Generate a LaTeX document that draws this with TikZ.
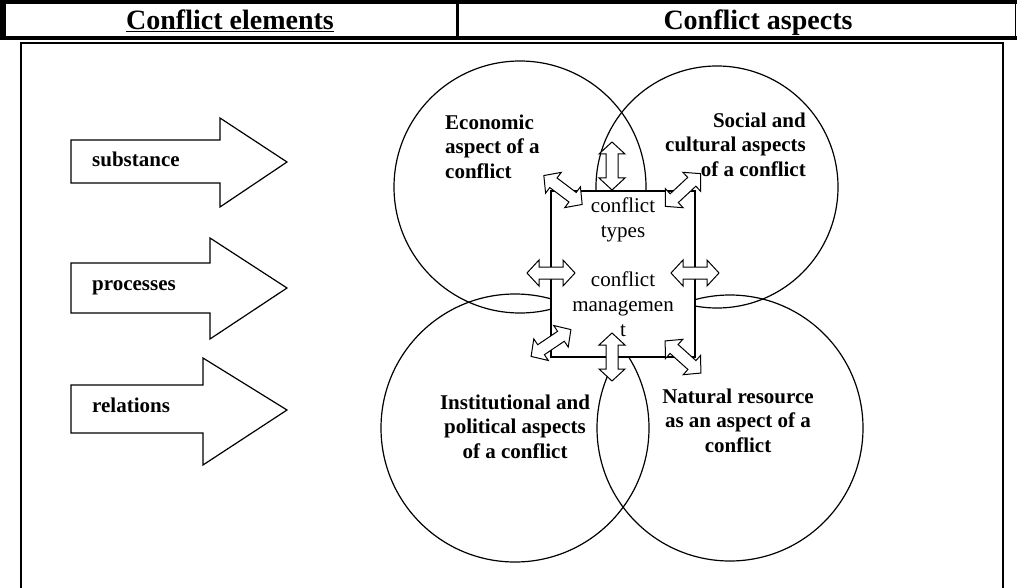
\documentclass[tikz,border=0pt]{standalone}
\usepackage{fontspec}
\setmainfont{Liberation Serif}
\usepackage{tikz}
\usetikzlibrary{positioning}

\tikzset{
	aspect/.style={circle, draw, line width=1.2pt},
	aspecttxt/.style={inner sep=0pt, font=\fontsize{21}{24.5}\selectfont\bfseries},
	elemtxt/.style={anchor=base west, inner sep=0pt, font=\fontsize{21}{24.5}\selectfont\bfseries},
	bigarrow/.style={draw, fill=white, line width=1.2pt, line join=miter},
	dblarr/.pic={\draw[fill=white, line width=1pt] (-24,0) -- (-12,13) -- (-12,6) -- (12,6) -- (12,13) -- (24,0) -- (12,-13) -- (12,-6) -- (-12,-6) -- (-12,-13) -- cycle;}
}

\begin{document}
\begin{tikzpicture}[x=1pt, y=-1pt]
		\useasboundingbox (0,0) rectangle (1017,588);

		% header
		\draw[line width=4pt] (0,2) -- (1017,2);
		\draw[line width=4pt] (0,38) -- (1017,38);
		\draw[line width=6pt] (3,0) -- (3,40);
		\draw[line width=1.5pt] (1015.5,0) -- (1015.5,40);
		\draw[line width=3pt] (457,0) -- (457,40);
		\node[anchor=base, inner sep=0pt, font=\fontsize{28}{30}\selectfont\bfseries] (elemhead) at (230,30) {\underline{Conflict elements}};
		\node[anchor=base, inner sep=0pt, font=\fontsize{28}{30}\selectfont\bfseries] (asphead) at (758,30) {\underline{Conflict aspects}};

		% frame
		\draw[line width=2pt] (21,588) -- (21,43) -- (1003,43) -- (1003,588);

		% elements
		\draw[bigarrow] (71,140) -- (220,140) -- (220,118) -- (287,162) -- (220,207) -- (220,183) -- (71,183) -- cycle;
		\draw[bigarrow] (71,263) -- (210,263) -- (210,238) -- (287,288) -- (210,339) -- (210,313) -- (71,313) -- cycle;
		\draw[bigarrow] (71,385) -- (203,385) -- (203,358) -- (287,410) -- (203,465) -- (203,433) -- (71,433) -- cycle;
		\node[elemtxt] (subst) at (92,167) {substance};
		\node[elemtxt] (proc) at (92,290) {processes};
		\node[elemtxt] (rel) at (92,412) {relations};

		% aspects
		\node[aspect, minimum size=252] (econ) at (520,187) {};
		\node[aspect, minimum size=242] (social) at (717,187) {};
		\node[aspect, minimum size=268] (inst) at (515,428) {};
		\node[aspect, minimum size=266] (natural) at (730,428) {};

		\node[aspecttxt, anchor=north west, align=left] (econtxt) at (445,114.5) {Economic\\aspect of a\\conflict};
		\node[aspecttxt, anchor=north east, align=right] (socialtxt) at (806,112.5) {Social and\\cultural aspects\\of a conflict};
		\node[aspecttxt, anchor=north, align=center] (insttxt) at (515,394.5) {Institutional and\\political aspects\\of a conflict};
		\node[aspecttxt, anchor=north, align=center] (naturaltxt) at (738,388.5) {Natural resource\\as an aspect of a\\conflict};

		% centre
		\node[draw, fill=white, line width=1.2pt, minimum width=144, minimum height=166] (box) at (623,274) {};
		\node[below=7.5pt of box.north, inner sep=0pt, align=center, font=\fontsize{21}{25}\selectfont] (boxtxt) {conflict\\types\\[24pt]conflict\\managemen\\t};

		\pic[rotate=90] at (612,166) {dblarr};
		\pic[rotate=-37] at (563,190) {dblarr};
		\pic[rotate=43] at (683,190) {dblarr};
		\pic at (551,273) {dblarr};
		\pic at (695,273) {dblarr};
		\pic[rotate=34] at (551,343) {dblarr};
		\pic[rotate=90] at (612,357) {dblarr};
		\pic[rotate=-42] at (683,357) {dblarr};
	\end{tikzpicture}
\end{document}
